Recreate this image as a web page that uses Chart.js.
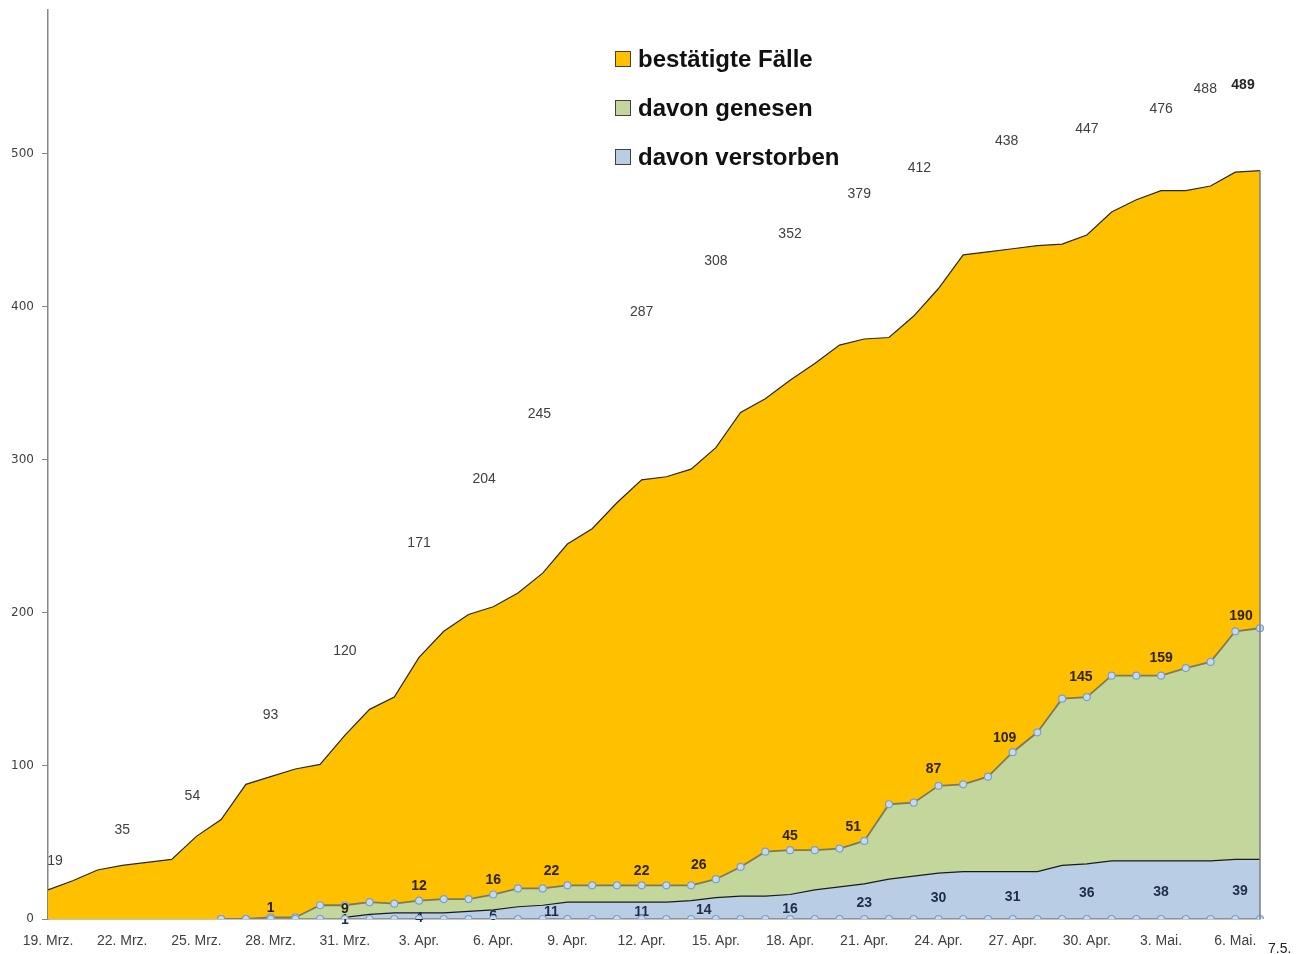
<!DOCTYPE html>
<html>
<head>
<meta charset="utf-8">
<script src="https://cdn.jsdelivr.net/npm/chart.js@4.4.1/dist/chart.umd.min.js"></script>
<style>
    body { margin: 0; background: #fff; }
    #wrap { width: 1308px; height: 954px; }
</style>
</head>
<body>
<div id="wrap"><canvas id="caseChart" width="1308" height="954"></canvas></div>
<script>
// Days from 19 March to 7 May
const days = [
    '19. Mrz.', '20. Mrz.', '21. Mrz.', '22. Mrz.', '23. Mrz.', '24. Mrz.', '25. Mrz.', '26. Mrz.',
    '27. Mrz.', '28. Mrz.', '29. Mrz.', '30. Mrz.', '31. Mrz.',
    '1. Apr.', '2. Apr.', '3. Apr.', '4. Apr.', '5. Apr.', '6. Apr.', '7. Apr.', '8. Apr.', '9. Apr.',
    '10. Apr.', '11. Apr.', '12. Apr.', '13. Apr.', '14. Apr.', '15. Apr.', '16. Apr.', '17. Apr.',
    '18. Apr.', '19. Apr.', '20. Apr.', '21. Apr.', '22. Apr.', '23. Apr.', '24. Apr.', '25. Apr.',
    '26. Apr.', '27. Apr.', '28. Apr.', '29. Apr.', '30. Apr.',
    '1. Mai.', '2. Mai.', '3. Mai.', '4. Mai.', '5. Mai.', '6. Mai.', '7.5.'
];

// bestätigte Fälle
const confirmed = [
    19, 25, 32, 35, 37, 39, 54, 65, 88, 93, 98, 101, 120,
    137, 145, 171, 188, 199, 204, 213, 226, 245, 255, 272, 287, 289, 294, 308, 331, 340,
    352, 363, 375, 379, 380, 394, 412, 434, 436, 438, 440, 441, 447,
    462, 470, 476, 476, 479, 488, 489
];

// davon genesen
const recovered = [
    null, null, null, null, null, null, null, 0, 0, 1, 1, 9, 9,
    11, 10, 12, 13, 13, 16, 20, 20, 22, 22, 22, 22, 22, 22, 26, 34, 44,
    45, 45, 46, 51, 75, 76, 87, 88, 93, 109, 122, 144, 145,
    159, 159, 159, 164, 168, 188, 190
];

// davon verstorben
const deceased = [
    null, null, null, null, null, null, null, null, null, null, null, null, 1,
    3, 4, 4, 4, 5, 6, 8, 9, 11, 11, 11, 11, 11, 12, 14, 15, 15,
    16, 19, 21, 23, 26, 28, 30, 31, 31, 31, 31, 35, 36,
    38, 38, 38, 38, 38, 39, 39
];

// marker row along the axis
const baseline = [
    null, null, null, null, null, null, null, 0, 0, 0, 0, 0, 0,
    0, 0, 0, 0, 0, 0, 0, 0, 0, 0, 0, 0, 0, 0, 0, 0, 0,
    0, 0, 0, 0, 0, 0, 0, 0, 0, 0, 0, 0, 0,
    0, 0, 0, 0, 0, 0, 0
];

const yTicks = [0, 100, 200, 300, 400, 500];

// which days carry a value label
const confirmedLabelDays = [0, 3, 6, 9, 12, 15, 18, 21, 24, 27, 30, 33, 36, 39, 42, 45, 48, 49];
const recoveredLabelDays = [9, 12, 15, 18, 21, 24, 27, 30, 33, 36, 39, 42, 45, 49];
const deceasedLabelDays = [12, 15, 18, 21, 24, 27, 30, 33, 36, 39, 42, 45, 49];

// label placement (pixels)
const confirmedLift = [29, 35, 40, 62, 84, 114, 128, 130, 168, 187, 146, 145, 120, 108, 106, 81, 83, 86];
const confirmedNudge = { 0: 7, 6: -4, 18: -9, 21: -28, 33: -5, 36: -19, 39: -6, 48: -30, 49: -17 };
const recoveredNudge = { 21: -16, 27: -17, 33: -11, 36: -5, 39: -8, 42: -6, 49: -19 };
const recoveredLift = { 9: 9, 12: -4, 36: 17, 42: 20, 45: 18, 49: 12 };
const deceasedNudge = { 21: -16, 27: -12, 49: -20 };

const legendItems = [
    { text: 'bestätigte Fälle', color: '#FFC000' },
    { text: 'davon genesen', color: '#C3D69B' },
    { text: 'davon verstorben', color: '#B9CDE5' }
];

// Value labels are drawn just before the axis marker row, so the markers sit on top
const valueLabels = {
    id: 'valueLabels',
    beforeDatasetDraw(chart, args) {
        if (args.index !== 0) return;
        const ctx = chart.ctx;
        const x = chart.scales.x;
        const y = chart.scales.y;
        ctx.save();
        ctx.textAlign = 'center';
        ctx.textBaseline = 'middle';

        confirmedLabelDays.forEach((d, i) => {
            const px = x.getPixelForValue(d) + (confirmedNudge[d] || 0);
            const py = y.getPixelForValue(confirmed[d]) - confirmedLift[i];
            ctx.font = d === 49 ? 'bold 14px "Liberation Sans", Arial, sans-serif'
                                : '14px "Liberation Sans", Arial, sans-serif';
            ctx.fillStyle = d === 49 ? '#262626' : '#404040';
            ctx.fillText(String(confirmed[d]), px, py);
        });

        ctx.font = 'bold 14px "Liberation Sans", Arial, sans-serif';
        ctx.fillStyle = '#2e2400';
        recoveredLabelDays.forEach(d => {
            const lift = recoveredLift[d] !== undefined ? recoveredLift[d] : 14;
            const px = x.getPixelForValue(d) + (recoveredNudge[d] || 0);
            const py = y.getPixelForValue(recovered[d]) - lift;
            ctx.fillText(String(recovered[d]), px, py);
        });

        ctx.fillStyle = '#1f2d4a';
        deceasedLabelDays.forEach(d => {
            const px = x.getPixelForValue(d) + (deceasedNudge[d] || 0);
            const py = y.getPixelForValue(deceased[d] / 2) + 2;
            ctx.fillText(String(deceased[d]), px, py);
        });
        ctx.restore();
    }
};

// Right edge of the orange area, legend and the trailing "7.5." label
const decorations = {
    id: 'decorations',
    afterDatasetsDraw(chart) {
        const ctx = chart.ctx;
        const area = chart.chartArea;
        const meta = chart.getDatasetMeta(3);
        const last = meta.data[meta.data.length - 1];
        ctx.save();
        ctx.strokeStyle = '#7f7f7f';
        ctx.lineWidth = 1.5;
        ctx.beginPath();
        ctx.moveTo(last.x, last.y);
        ctx.lineTo(last.x, area.bottom);
        ctx.stroke();

        legendItems.forEach((item, i) => {
            const cy = 59 + i * 49;
            ctx.fillStyle = item.color;
            ctx.fillRect(615.5, cy - 7.5, 15, 15);
            ctx.strokeStyle = '#404040';
            ctx.lineWidth = 1;
            ctx.strokeRect(615.5, cy - 7.5, 15, 15);
            ctx.fillStyle = '#111';
            ctx.font = 'bold 24px "Liberation Sans", Arial, sans-serif';
            ctx.textAlign = 'left';
            ctx.textBaseline = 'middle';
            ctx.fillText(item.text, 638, cy + 1);
        });

        ctx.fillStyle = '#222';
        ctx.font = '14px "Liberation Sans", Arial, sans-serif';
        ctx.textAlign = 'left';
        ctx.textBaseline = 'middle';
        ctx.fillText(days[days.length - 1], area.right + 8, area.bottom + 30);
        ctx.restore();
    }
};

const ctx = document.getElementById('caseChart').getContext('2d');
new Chart(ctx, {
    type: 'line',
    data: {
        labels: days,
        datasets: [
            {
                label: 'axis markers',
                data: baseline,
                borderColor: '#7f7f7f',
                borderWidth: 1.5,
                pointRadius: 3.5,
                pointBackgroundColor: '#c6d9f1',
                pointBorderColor: '#7aa0c8',
                pointBorderWidth: 1.2,
                fill: false,
                tension: 0
            },
            {
                label: 'davon verstorben',
                data: deceased,
                borderColor: '#1a1a1a',
                borderWidth: 1.2,
                backgroundColor: '#B9CDE5',
                pointRadius: 0,
                fill: 'origin',
                tension: 0
            },
            {
                label: 'davon genesen',
                data: recovered,
                borderColor: '#7d7a5c',
                borderWidth: 1.8,
                backgroundColor: '#C3D69B',
                pointRadius: 3.5,
                pointBackgroundColor: '#c6d9f1',
                pointBorderColor: '#7aa0c8',
                pointBorderWidth: 1.2,
                fill: 'origin',
                tension: 0
            },
            {
                label: 'bestätigte Fälle',
                data: confirmed,
                borderColor: '#2a2a2a',
                borderWidth: 1.2,
                backgroundColor: '#FFC000',
                pointRadius: 0,
                fill: 'origin',
                tension: 0
            }
        ]
    },
    options: {
        responsive: false,
        animation: false,
        layout: { padding: { top: 10, right: 48, left: 0, bottom: 0 } },
        plugins: {
            legend: { display: false },
            tooltip: { enabled: false }
        },
        scales: {
            x: {
                offset: false,
                grid: { display: false },
                border: { color: '#868686', width: 1.5 },
                ticks: {
                    autoSkip: false,
                    maxRotation: 0,
                    padding: 6,
                    color: '#404040',
                    font: { family: '"Liberation Sans", Arial, sans-serif', size: 14 },
                    callback: (v, i) => (i % 3 === 0 && i < days.length - 1) ? days[i] : ''
                },
                afterFit: (scale) => { scale.height = 35; }
            },
            y: {
                min: 0,
                max: 594,
                grid: { drawOnChartArea: false, drawTicks: true, tickLength: 6, color: '#868686' },
                border: { color: '#868686', width: 1.5 },
                afterBuildTicks: (scale) => { scale.ticks = yTicks.map(v => ({ value: v })); },
                ticks: {
                    padding: 8,
                    color: '#404040',
                    font: { family: '"DejaVu Sans", Verdana, sans-serif', size: 12 }
                },
                afterFit: (scale) => {
                    scale.width = 48;
                    scale.paddingTop = 0;
                    scale.paddingBottom = 0;
                }
            }
        }
    },
    plugins: [valueLabels, decorations]
});
</script>
</body>
</html>
